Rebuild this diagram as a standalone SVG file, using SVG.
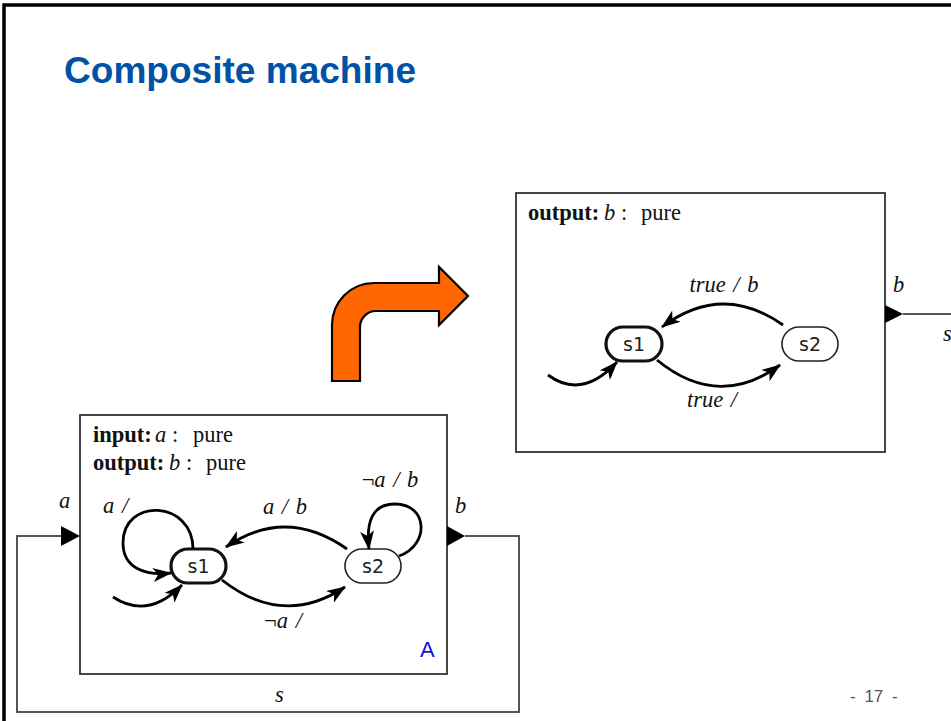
<svg xmlns="http://www.w3.org/2000/svg" width="951" height="721" viewBox="0 0 951 721">
<defs>
<style>
.title{font-family:"Liberation Sans",Arial,sans-serif;font-weight:bold;font-size:37.5px;fill:#0052A4}
.lbl{font-family:"Liberation Serif","Times New Roman",serif;font-size:22.5px;fill:#111}
.it{font-style:italic}
.bd{font-weight:bold}
.st{font-family:"DejaVu Sans",sans-serif;font-size:19px;fill:#222;text-anchor:middle}
.box{fill:#fff;stroke:#333;stroke-width:1.8}
.thick{fill:#fff;stroke:#111;stroke-width:3.2}
.thin{fill:#fff;stroke:#222;stroke-width:1.6}
.edge{fill:none;stroke:#000;stroke-width:2.8;marker-end:url(#ah)}
.wire{fill:none;stroke:#555;stroke-width:2}
.port{fill:#000}
</style>
<marker id="ah" markerUnits="userSpaceOnUse" markerWidth="20" markerHeight="14" refX="18" refY="7" orient="auto" viewBox="0 0 20 14">
<path d="M0,0 L19,7 L0,14 L5,7 Z" fill="#000"/>
</marker>
</defs>
<rect width="951" height="721" fill="#fff"/>
<rect x="4" y="5" width="1000" height="800" fill="none" stroke="#000" stroke-width="3.5"/>
<text class="title" x="64" y="83" textLength="352" lengthAdjust="spacingAndGlyphs">Composite machine</text>

<g id="big-arrow">
<path d="M332,381 V325 A42,42 0 0 1 374,283 H439 V267 L468,296 L439,325 V311 H376 A16,16 0 0 0 360,327 V381 Z" fill="#FF6600" stroke="#000" stroke-width="2.2" stroke-linejoin="miter"/>
</g>

<g id="machine-top">
<rect class="box" x="516" y="193" width="369" height="259"/>
<text class="lbl" x="528" y="220"><tspan class="bd">output:</tspan><tspan class="it" x="604">b</tspan><tspan x="621">:</tspan><tspan x="641">pure</tspan></text>
</g>
<g id="top-s1">
<rect class="thick" x="606" y="327" width="56" height="34" rx="17"/>
<text class="st" x="634" y="351">s1</text>
</g>
<g id="top-s2">
<rect class="thin" x="782" y="327" width="56" height="34" rx="17"/>
<text class="st" x="810" y="351">s2</text>
</g>

<g id="machine-bottom">
<rect class="box" x="80" y="415" width="367" height="259"/>
<text class="lbl" x="93" y="442"><tspan class="bd">input:</tspan><tspan class="it" x="155">a</tspan><tspan x="172">:</tspan><tspan x="193">pure</tspan></text>
<text class="lbl" x="93" y="470"><tspan class="bd">output:</tspan><tspan class="it" x="169">b</tspan><tspan x="186">:</tspan><tspan x="206">pure</tspan></text>
<text x="420" y="657" font-family="Liberation Sans,Arial,sans-serif" font-size="22" fill="#1010E0">A</text>
</g>
<g id="bot-s1">
<rect class="thick" x="171" y="549" width="55" height="34" rx="17"/>
<text class="st" x="198.5" y="573">s1</text>
</g>
<g id="bot-s2">
<rect class="thin" x="345" y="549" width="56" height="34" rx="17"/>
<text class="st" x="373" y="573">s2</text>
</g>

<g id="connectors">
<path class="edge" d="M783,325 Q722,282 662,327"/>
<path class="edge" d="M657,360 Q718,410 780,365"/>
<path class="edge" d="M548,375 Q582,400 617,362"/>
<path class="edge" d="M347,549 Q286,506 226,547"/>
<path class="edge" d="M222,580 Q283,628 345,587"/>
<path class="edge" d="M113,597 Q148,620 182,585"/>
<path class="edge" d="M193,549 C193,500 123,497 123,543 C123,568 145,576 171,573"/>
<path class="edge" d="M399,556 C430,545 428,504 395,504 C372,504 366,522 369,549"/>
<path class="wire" d="M903,314 H951"/>
<path class="port" d="M885,305 L903,314 L885,323 Z"/>
<path class="wire" d="M61,536 H17 V712 H519 V536 H465"/>
<path class="port" d="M61,526 L80,536 L61,546 Z"/>
<path class="port" d="M447,526 L465,536 L447,546 Z"/>
</g>

<g id="labels">
<text class="lbl it" x="724" y="292" text-anchor="middle" word-spacing="2">true / b</text>
<text class="lbl it" x="712" y="407" text-anchor="middle" word-spacing="2">true /</text>
<text class="lbl it" x="893" y="292">b</text>
<text class="lbl it" x="943" y="341">s</text>
<text class="lbl it" x="103" y="513" word-spacing="2">a /</text>
<text class="lbl it" x="285" y="514" text-anchor="middle" word-spacing="2">a / b</text>
<text class="lbl it" x="390" y="487" text-anchor="middle" word-spacing="2"><tspan font-style="normal">¬</tspan>a / b</text>
<text class="lbl it" x="283" y="628" text-anchor="middle" word-spacing="2"><tspan font-style="normal">¬</tspan>a /</text>
<text class="lbl it" x="59" y="508">a</text>
<text class="lbl it" x="455" y="513">b</text>
<text class="lbl it" x="275" y="702">s</text>
</g>
<text x="850" y="702" font-family="Liberation Sans,Arial,sans-serif" font-size="17" fill="#555" word-spacing="4">- 17 -</text>
</svg>
